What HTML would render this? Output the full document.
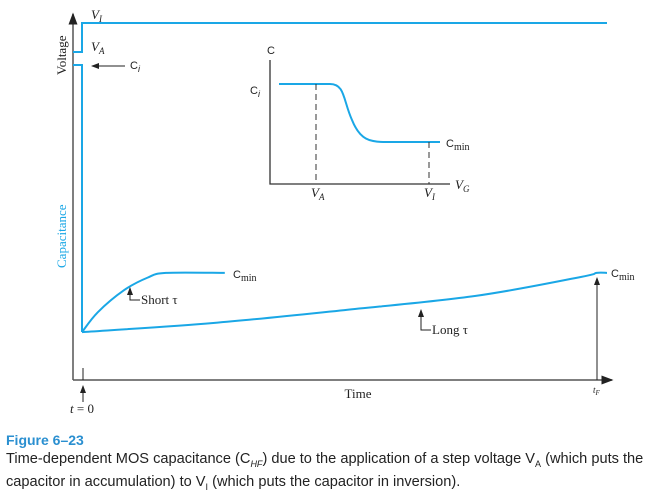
<!DOCTYPE html>
<html><head><meta charset="utf-8"><style>
body{margin:0;width:659px;height:485px;background:#fff;overflow:hidden;font-family:"Liberation Sans",sans-serif}
svg{position:absolute;left:0;top:0}
.cap{position:absolute;left:6px;font-size:14.6px;color:#222;line-height:18px;white-space:nowrap}
</style></head><body>
<svg width="659" height="430">
<defs><marker id="ah" markerWidth="8" markerHeight="8" refX="7" refY="4" orient="auto"><path d="M0,1 L8,4 L0,7 Z" fill="#222"/></marker></defs>
<g font-family="Liberation Serif,serif" fill="#222">
<line x1="73" y1="380" x2="73" y2="14" stroke="#555" stroke-width="1.5" marker-end="url(#ah)"/>
<line x1="73" y1="380" x2="612" y2="380" stroke="#555" stroke-width="1.5" marker-end="url(#ah)"/>
<text transform="translate(66,75) rotate(-90)" font-size="13">Voltage</text>
<text transform="translate(66,268) rotate(-90)" font-size="13" fill="#1aa7e6">Capacitance</text>
<text x="358" y="398" font-size="13" text-anchor="middle">Time</text>
<polyline points="73,52 82,52 82,23 607,23" fill="none" stroke="#1aa7e6" stroke-width="2"/>
<polyline points="73,65 82,65 82,332" fill="none" stroke="#1aa7e6" stroke-width="2"/>
<text x="91" y="19" font-size="13" font-style="italic">V<tspan font-size="9" dy="3">I</tspan></text>
<text x="91" y="51" font-size="13" font-style="italic">V<tspan font-size="9" dy="3">A</tspan></text>
<line x1="125" y1="66" x2="92" y2="66" stroke="#222" marker-end="url(#ah)"/>
<text x="130" y="69" font-size="11" font-family="Liberation Sans">C<tspan font-style="italic" font-size="9" dy="3">i</tspan></text>
<path id="short" fill="none" stroke="#1aa7e6" stroke-width="2"/>
<path id="long" fill="none" stroke="#1aa7e6" stroke-width="2"/>
<text x="233" y="278" font-size="11" font-family="Liberation Sans">C<tspan font-size="10" font-family="Liberation Serif" dy="3">min</tspan></text>
<text x="611" y="277" font-size="11" font-family="Liberation Sans">C<tspan font-size="10" font-family="Liberation Serif" dy="3">min</tspan></text>
<polyline points="140,300 130,300 130,288" fill="none" stroke="#222" marker-end="url(#ah)"/>
<text x="141" y="304" font-size="13">Short τ</text>
<polyline points="431,330 421,330 421,310" fill="none" stroke="#222" marker-end="url(#ah)"/>
<text x="432" y="334" font-size="13">Long τ</text>
<line x1="597" y1="380" x2="597" y2="278" stroke="#222" marker-end="url(#ah)"/>
<text x="593" y="393" font-size="9" font-style="italic">t<tspan font-size="7" dy="2">F</tspan></text>
<line x1="83" y1="368" x2="83" y2="380" stroke="#222"/>
<line x1="83" y1="402" x2="83" y2="386" stroke="#222" marker-end="url(#ah)"/>
<text x="82" y="413" font-size="13" text-anchor="middle"><tspan font-style="italic">t</tspan> = 0</text>
<g>
<polyline points="270,60 270,184 450,184" fill="none" stroke="#333" stroke-width="1.3"/>
<text x="267" y="54" font-size="11" font-family="Liberation Sans">C</text>
<text x="250" y="94" font-size="11" font-family="Liberation Sans">C<tspan font-style="italic" font-size="9" dy="3">i</tspan></text>
<path d="M279,84 L330,84 C345,84 343,100 352,120 C360,140 370,142 385,142 L440,142" fill="none" stroke="#1aa7e6" stroke-width="2"/>
<line x1="316" y1="84" x2="316" y2="184" stroke="#333" stroke-dasharray="6,4"/>
<line x1="429" y1="142" x2="429" y2="184" stroke="#333" stroke-dasharray="6,4"/>
<text x="446" y="147" font-size="11" font-family="Liberation Sans">C<tspan font-size="10" font-family="Liberation Serif" dy="3">min</tspan></text>
<text x="311" y="197" font-size="13" font-style="italic">V<tspan font-size="9" dy="3">A</tspan></text>
<text x="424" y="197" font-size="13" font-style="italic">V<tspan font-size="9" dy="3">I</tspan></text>
<text x="455" y="189" font-size="13" font-style="italic">V<tspan font-size="9" dy="3">G</tspan></text>
</g>
</g>
</svg>
<div class="cap" style="top:431px;color:#2a8fd0;font-weight:bold;font-size:14px">Figure 6–23</div>
<div class="cap" style="top:450px">Time-dependent MOS capacitance (C<sub style="font-size:9px;font-style:italic">HF</sub>) due to the application of a step voltage V<sub style="font-size:9px">A</sub> (which puts the<br>capacitor in accumulation) to V<sub style="font-size:9px">I</sub> (which puts the capacitor in inversion).</div>
<script>
// time as fraction of time axis, capacitance as fraction of Ci
const shortT=[0,0.03,0.08,0.125,0.16,0.272];
const shortC=[0.152,0.215,0.285,0.325,0.34,0.34];
const longT=[0,0.25,0.5,0.75,0.95,0.98,1.0];
const longC=[0.152,0.181,0.222,0.267,0.327,0.34,0.34];
const x0=82,x1=607,yB=380,yT=65;
const sx=t=>x0+t*(x1-x0), sy=c=>yB-c*(yB-yT);
function path(T,C){const pts=T.map((t,i)=>[sx(t),sy(C[i])]);
 let d='M'+pts[0][0]+','+pts[0][1];
 for(let i=1;i<pts.length;i++){const p0=pts[i-2]||pts[i-1],p1=pts[i-1],p2=pts[i],p3=pts[i+1]||p2;
 d+=` C${p1[0]+(p2[0]-p0[0])/6},${p1[1]+(p2[1]-p0[1])/6} ${p2[0]-(p3[0]-p1[0])/6},${p2[1]-(p3[1]-p1[1])/6} ${p2[0]},${p2[1]}`;}
 return d;}
document.getElementById('short').setAttribute('d',path(shortT,shortC));
document.getElementById('long').setAttribute('d',path(longT,longC));
</script>
</body></html>
